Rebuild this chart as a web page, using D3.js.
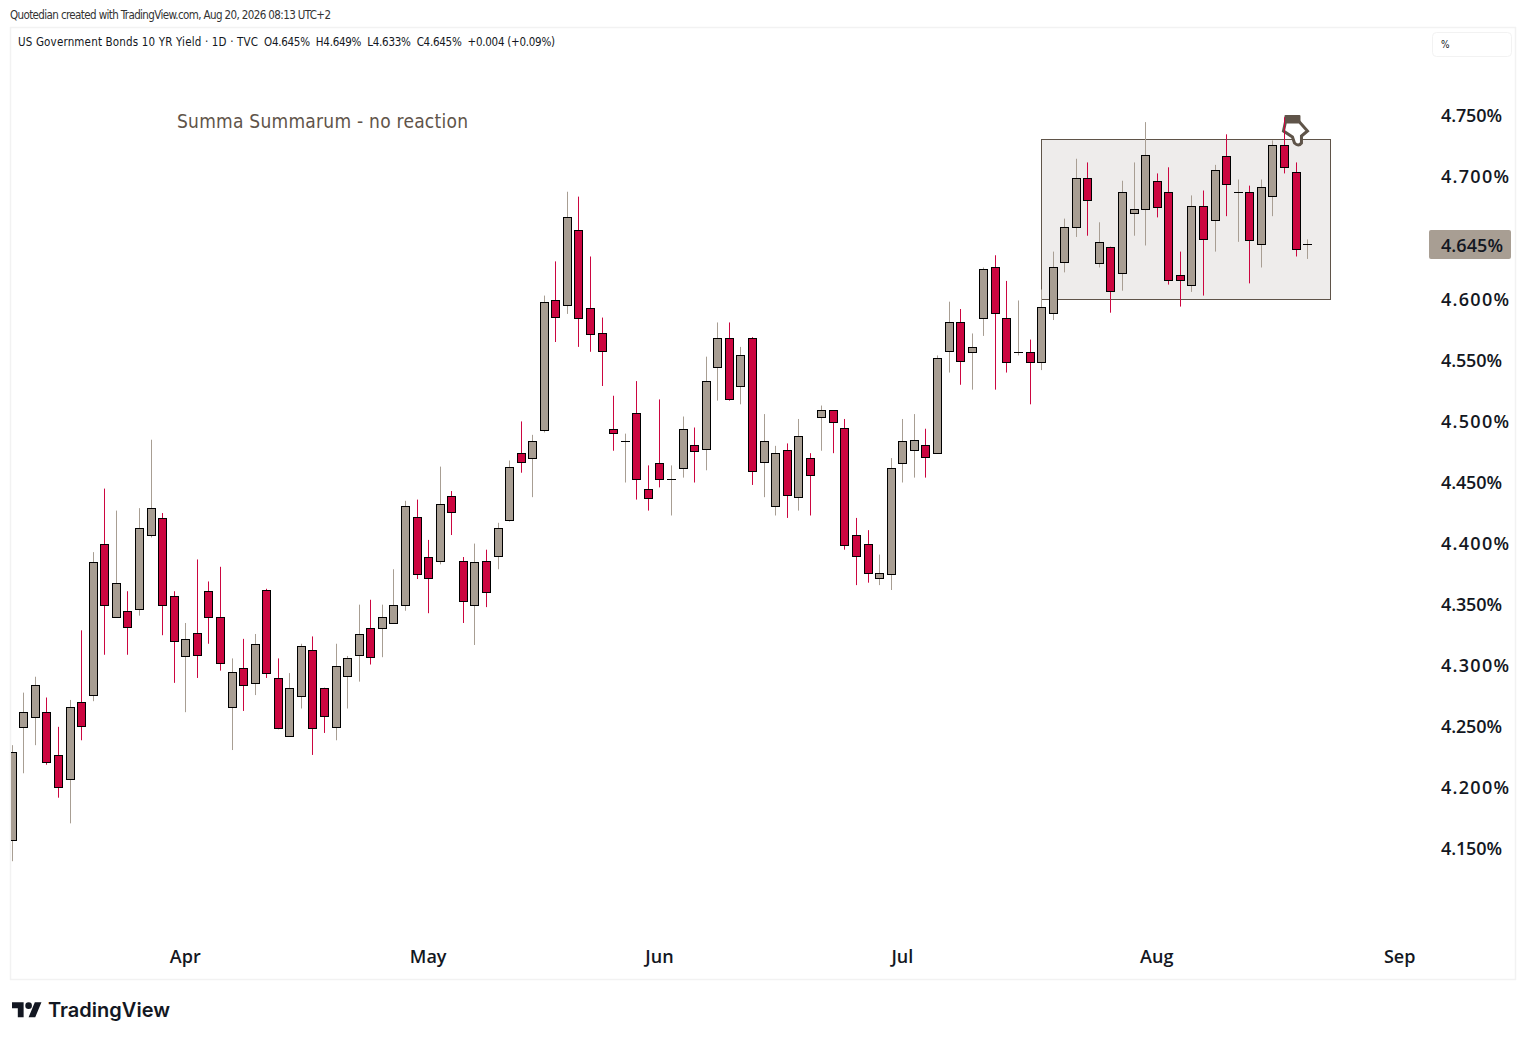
<!DOCTYPE html>
<html>
<head>
<meta charset="utf-8">
<script src="https://cdn.jsdelivr.net/npm/d3@7"></script>
<style>
  html, body { margin: 0; padding: 0; background: #fff; }
  svg { display: block; }
  text { font-family: "Open Sans", "Noto Sans", sans-serif; }
  .small { font-family: "DejaVu Sans", sans-serif; font-stretch: condensed; }
</style>
</head>
<body>
<div id="chart-area"></div>
<script>
// Daily bars, first bar is Mar 11
let open = [
	4.157,4.250,4.258,4.262,4.227,4.207,4.270,4.276,4.400,4.340,
	4.345,4.347,4.407,4.421,4.357,4.308,4.327,4.361,4.340,4.266,
	4.298,4.286,4.362,4.290,4.243,4.275,4.313,4.282,4.250,4.291,
	4.309,4.331,4.331,4.335,4.350,4.422,4.389,4.385,4.439,4.386,
	4.350,4.386,4.390,4.420,4.474,4.470,4.493,4.599,4.595,4.657,
	4.593,4.572,4.494,4.484,4.507,4.445,4.466,4.453,4.462,4.481,
	4.477,4.544,4.568,4.529,4.568,4.467,4.431,4.477,4.438,4.470,
	4.503,4.509,4.495,4.407,4.400,4.372,4.375,4.466,4.477,4.481,
	4.474,4.557,4.581,4.557,4.585,4.626,4.585,4.557,4.557,4.549,
	4.588,4.630,4.659,4.699,4.630,4.643,4.622,4.671,4.674,4.697,
	4.688,4.620,4.611,4.676,4.665,4.717,4.688,4.688,4.645,4.684,
	4.726,4.704,4.645
];
let high = [
	4.235,4.278,4.291,4.274,4.250,4.272,4.329,4.393,4.445,4.427,
	4.361,4.429,4.485,4.425,4.361,4.335,4.387,4.369,4.381,4.306,
	4.322,4.326,4.363,4.306,4.294,4.318,4.324,4.282,4.318,4.308,
	4.350,4.354,4.350,4.379,4.435,4.436,4.403,4.463,4.443,4.389,
	4.400,4.395,4.417,4.468,4.500,4.489,4.603,4.631,4.688,4.684,
	4.635,4.585,4.521,4.490,4.533,4.464,4.518,4.464,4.504,4.495,
	4.553,4.581,4.581,4.561,4.569,4.506,4.480,4.482,4.502,4.474,
	4.513,4.509,4.502,4.421,4.411,4.391,4.470,4.502,4.506,4.494,
	4.554,4.598,4.592,4.572,4.626,4.636,4.615,4.599,4.567,4.608,
	4.639,4.666,4.715,4.712,4.663,4.643,4.697,4.712,4.745,4.703,
	4.708,4.639,4.685,4.689,4.710,4.735,4.698,4.693,4.698,4.730,
	4.749,4.712,4.649
];
let low = [
	4.140,4.212,4.235,4.219,4.192,4.171,4.239,4.271,4.309,4.340,
	4.309,4.341,4.405,4.325,4.286,4.262,4.290,4.318,4.296,4.231,
	4.263,4.276,4.290,4.248,4.243,4.265,4.227,4.245,4.239,4.265,
	4.287,4.301,4.307,4.335,4.345,4.371,4.343,4.383,4.407,4.335,
	4.317,4.348,4.379,4.418,4.458,4.438,4.491,4.565,4.588,4.561,
	4.557,4.529,4.476,4.450,4.436,4.427,4.446,4.423,4.454,4.450,
	4.460,4.517,4.517,4.514,4.448,4.438,4.423,4.421,4.427,4.423,
	4.476,4.474,4.395,4.366,4.368,4.366,4.362,4.450,4.454,4.454,
	4.474,4.540,4.530,4.526,4.570,4.526,4.540,4.554,4.514,4.542,
	4.583,4.622,4.651,4.652,4.626,4.589,4.607,4.652,4.644,4.667,
	4.612,4.594,4.606,4.603,4.639,4.668,4.647,4.613,4.626,4.668,
	4.703,4.635,4.633
];
let close = [
	4.229,4.262,4.284,4.221,4.201,4.266,4.250,4.385,4.350,4.368,
	4.332,4.413,4.429,4.350,4.320,4.322,4.309,4.340,4.302,4.295,
	4.284,4.318,4.294,4.249,4.282,4.316,4.249,4.259,4.300,4.306,
	4.326,4.307,4.340,4.350,4.431,4.375,4.372,4.432,4.426,4.353,
	4.385,4.361,4.413,4.463,4.467,4.484,4.598,4.585,4.667,4.585,
	4.572,4.557,4.491,4.484,4.453,4.438,4.453,4.453,4.494,4.476,
	4.533,4.568,4.518,4.554,4.459,4.484,4.474,4.440,4.488,4.456,
	4.509,4.499,4.399,4.390,4.376,4.376,4.462,4.484,4.485,4.471,
	4.552,4.581,4.549,4.561,4.625,4.588,4.549,4.557,4.549,4.594,
	4.626,4.659,4.699,4.681,4.647,4.607,4.688,4.674,4.718,4.676,
	4.616,4.616,4.676,4.649,4.706,4.694,4.688,4.649,4.692,4.726,
	4.708,4.641,4.645
];

// Axis labels and where they sit, in bars
let monthLabels = ["Apr", "May", "Jun", "Jul", "Aug", "Sep"];
let monthBars = [15, 36, 56, 77, 99, 120];
let priceTicks = [4.15, 4.20, 4.25, 4.30, 4.35, 4.40, 4.45, 4.50, 4.55, 4.60, 4.65, 4.70, 4.75];

// Range box drawn on the chart
let boxBars = [89, 114];
let boxPrices = [4.60, 4.731];
let lastPrice = 4.645;

let upColor = "#a89e93",
	downColor = "#cc0640",
	inkColor = "#131722",
	noteColor = "#5f5449";

let bars = open.map((o, i) => ({i: i, open: o, high: high[i], low: low[i], close: close[i]}));

let svg = d3.select("#chart-area")
	.append("svg")
	.attr("width", 1526)
	.attr("height", 1040);

// Scales
let x = d3.scaleLinear().domain([0, 112]).range([12.3, 1307.6]);
let y = d3.scaleLinear().domain([4.15, 4.75]).range([849, 116]);

// Frame around the chart
svg.append("rect")
	.attr("x", 10.5).attr("y", 27.5)
	.attr("width", 1505).attr("height", 952)
	.attr("fill", "none")
	.attr("stroke", "#f2f2f2")
	.attr("stroke-width", 1.5);

svg.append("clipPath").attr("id", "plot")
	.append("rect")
	.attr("x", 11).attr("y", 28)
	.attr("width", 1504).attr("height", 950);

let plot = svg.append("g").attr("clip-path", "url(#plot)");

// Range box
plot.append("rect")
	.attr("x", Math.floor(x(boxBars[0])) + 0.5)
	.attr("y", Math.floor(y(boxPrices[1])) + 0.5)
	.attr("width", Math.round(x(boxBars[1]) - x(boxBars[0])))
	.attr("height", Math.round(y(boxPrices[0]) - y(boxPrices[1])))
	.attr("fill", "#eeeceb")
	.attr("stroke", noteColor)
	.attr("stroke-width", 1);

// Pointing hand, sits on the high of bar 110
let hand = plot.append("g")
	.attr("transform", "translate(" + x(110) + "," + y(4.75) + ")");
hand.append("path")
	.attr("d", "M1,6 L-1,15 L8,21 L10,27 Q14,31 17,27 L17,20 L23,15 L15,6 Z")
	.attr("fill", "#fff")
	.attr("stroke", noteColor)
	.attr("stroke-width", 3);
hand.append("rect")
	.attr("x", 0).attr("y", -1)
	.attr("width", 16).attr("height", 8)
	.attr("rx", 1)
	.attr("fill", noteColor);

// Candles
let candle = plot.selectAll(".candle")
	.data(bars)
	.enter()
	.append("g")
	.attr("class", "candle");

candle.append("line")
	.attr("x1", d => Math.floor(x(d.i)) + 0.5)
	.attr("x2", d => Math.floor(x(d.i)) + 0.5)
	.attr("y1", d => y(d.high))
	.attr("y2", d => y(d.low))
	.attr("stroke", d => d.close >= d.open ? upColor : downColor)
	.attr("stroke-width", 1);

candle.filter(d => d.close !== d.open)
	.append("rect")
	.attr("x", d => Math.floor(x(d.i)) - 3.5)
	.attr("y", d => Math.round(y(Math.max(d.open, d.close))) + 0.5)
	.attr("width", 8)
	.attr("height", d => Math.max(1, Math.round(Math.abs(y(d.open) - y(d.close)))))
	.attr("fill", d => d.close >= d.open ? upColor : downColor)
	.attr("stroke", "#000")
	.attr("stroke-width", 1);

// Open equals close: only a dash
candle.filter(d => d.close === d.open)
	.append("line")
	.attr("x1", d => Math.floor(x(d.i)) - 4)
	.attr("x2", d => Math.floor(x(d.i)) + 5)
	.attr("y1", d => Math.round(y(d.open)) + 0.5)
	.attr("y2", d => Math.round(y(d.open)) + 0.5)
	.attr("stroke", "#000")
	.attr("stroke-width", 1);

// Price axis, the label for 4.65 gives way to the last price tag
let yAxis = d3.axisRight()
	.scale(y)
	.tickValues(priceTicks.filter(d => d !== 4.65))
	.tickSize(0)
	.tickPadding(0)
	.tickFormat(d => d3.format(".3f")(d) + "%");

let yAxisGroup = svg.append("g")
	.attr("transform", "translate(1441,0)")
	.call(yAxis);
yAxisGroup.select(".domain").remove();
yAxisGroup.selectAll("text")
	.attr("font-size", 18)
	.attr("font-weight", 600)
	.attr("fill", inkColor)
	.attr("textLength", d => Math.round(d * 100) % 10 === 0 ? 68 : 61);

// Last price tag
svg.append("rect")
	.attr("x", 1429).attr("y", 230)
	.attr("width", 82).attr("height", 29)
	.attr("rx", 2)
	.attr("fill", upColor);
svg.append("text")
	.attr("x", 1441)
	.attr("y", y(lastPrice) + 8)
	.attr("font-size", 18)
	.attr("font-weight", 600)
	.attr("fill", inkColor)
	.attr("textLength", 62)
	.text(d3.format(".3f")(lastPrice) + "%");

// Time axis
let xAxis = d3.axisBottom()
	.scale(x)
	.tickValues(monthBars)
	.tickSize(0)
	.tickPadding(0)
	.tickFormat((d, i) => monthLabels[i]);

let xAxisGroup = svg.append("g")
	.attr("transform", "translate(-1,950)")
	.call(xAxis);
xAxisGroup.select(".domain").remove();
xAxisGroup.selectAll("text")
	.attr("font-size", 18)
	.attr("font-weight", 600)
	.attr("fill", inkColor);

// Unit box
svg.append("rect")
	.attr("x", 1432.5).attr("y", 32.5)
	.attr("width", 79).attr("height", 24)
	.attr("rx", 4)
	.attr("fill", "#fff")
	.attr("stroke", "#f2f2f2");
svg.append("text")
	.attr("class", "small")
	.attr("x", 1441).attr("y", 48)
	.attr("font-size", 10)
	.attr("fill", inkColor)
	.text("%");

// Header texts
svg.append("text")
	.attr("class", "small")
	.attr("x", 10).attr("y", 19)
	.attr("font-size", 11.5)
	.attr("fill", "#333")
	.attr("textLength", 321)
	.text("Quotedian created with TradingView.com, Aug 20, 2026 08:13 UTC+2");
svg.append("text")
	.attr("class", "small")
	.attr("x", 18).attr("y", 46)
	.attr("font-size", 11.5)
	.attr("fill", inkColor)
	.attr("textLength", 240)
	.text("US Government Bonds 10 YR Yield · 1D · TVC");
svg.append("text")
	.attr("class", "small")
	.attr("x", 264).attr("y", 46)
	.attr("font-size", 11.5)
	.attr("fill", inkColor)
	.attr("textLength", 291)
	.style("white-space", "pre")
	.text("O4.645%  H4.649%  L4.633%  C4.645%  +0.004 (+0.09%)");

svg.append("text")
	.attr("class", "small")
	.attr("x", 177).attr("y", 128)
	.attr("font-size", 19)
	.attr("fill", noteColor)
	.attr("textLength", 291)
	.text("Summa Summarum - no reaction");

// TradingView mark
let logo = svg.append("g")
	.attr("transform", "translate(12,999) scale(0.83)")
	.attr("fill", "#131722");
logo.append("path").attr("d", "M14 22H7V11H0V4h14v18zM28 22h-8l7.5-18h8L28 22z");
logo.append("circle").attr("cx", 20).attr("cy", 8).attr("r", 4);

svg.append("text")
	.attr("x", 48).attr("y", 1017)
	.style("font-family", "Inter, sans-serif")
	.attr("font-size", 20)
	.attr("font-weight", 600)
	.attr("fill", "#131722")
	.attr("textLength", 122)
	.text("TradingView");
</script>
</body>
</html>
